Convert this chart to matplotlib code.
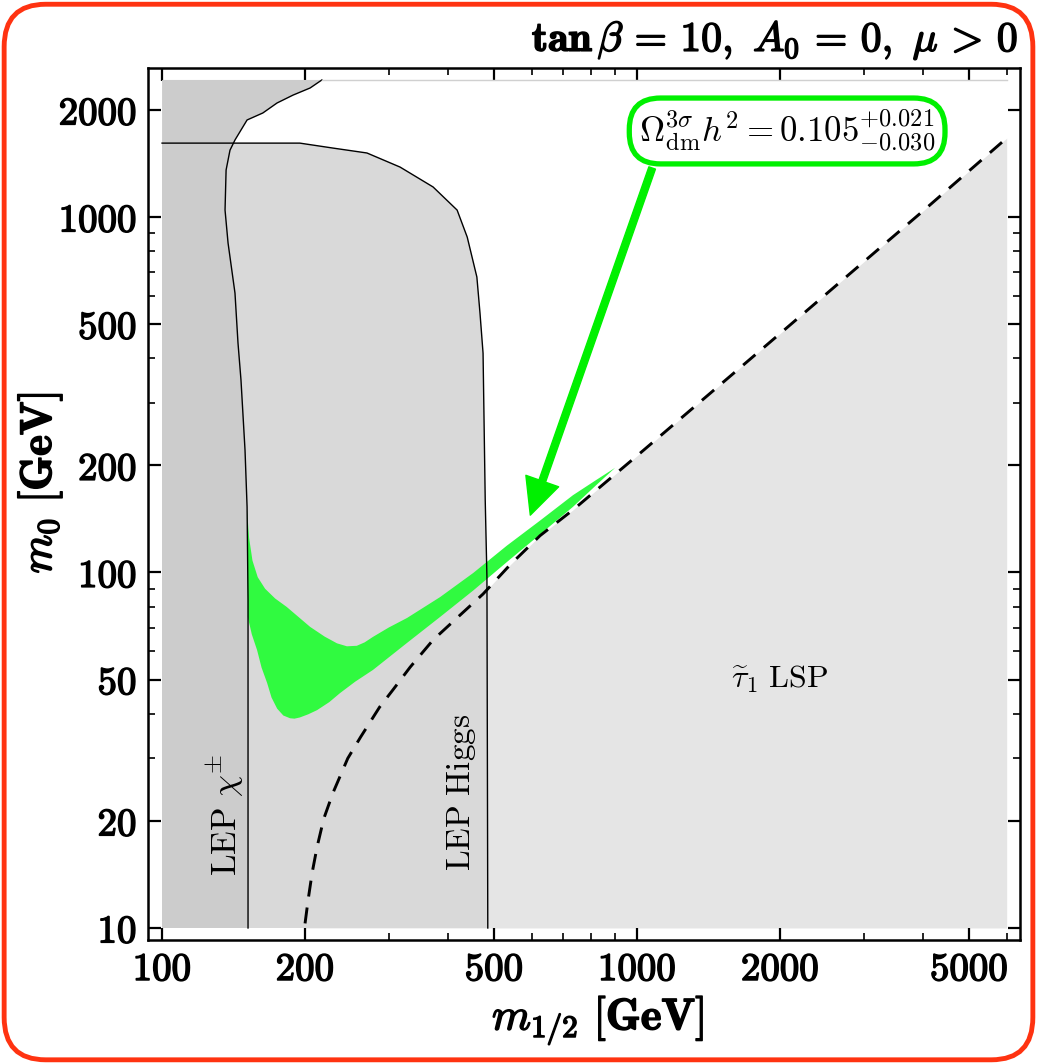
import numpy as np
import matplotlib
matplotlib.use('Agg')
import matplotlib.pyplot as plt
from matplotlib.patches import FancyBboxPatch
from matplotlib import patheffects as pe
from matplotlib.ticker import FixedLocator, FixedFormatter, NullFormatter

plt.rcParams['mathtext.fontset'] = 'cm'
plt.rcParams['font.family'] = 'serif'

# scan range of the (m_1/2, m_0) plane, GeV
m12_min, m12_max = 100.0, 6000.0
m0_min, m0_max = 10.0, 2430.0

# LEP chargino bound (bottom -> top)
chi_x = [151.7, 151.7, 151.0, 149.5, 146.6, 144.5, 142.4, 137.7, 135.7, 136.4,
         139.0, 142.4, 151.0, 163.0, 174.6, 188.7, 205.0, 217.0]
chi_y = [10.0, 84.0, 153.0, 221.0, 348.0, 442.0, 611.0, 845.0, 1046.0, 1356.0,
         1542.0, 1647.0, 1875.0, 1962.0, 2093.0, 2203.0, 2307.0, 2430.0]

# LEP Higgs bound (left along the top, then down)
higgs_x = [100.0, 195.0, 229.0, 270.0, 317.0, 372.0, 418.0, 439.0, 460.0,
           467.0, 474.0, 479.0, 483.0, 485.0]
higgs_y = [1614.0, 1614.0, 1563.0, 1514.0, 1382.0, 1215.0, 1046.0, 878.0,
           678.0, 537.0, 414.0, 160.0, 97.0, 10.0]

# m_stau = m_chi boundary (stau LSP below)
stau_x = [200, 203, 207, 212, 219, 229, 246, 262, 287, 306, 333, 372, 420,
          474, 540, 625, 733, 1000, 2000, 4000, 6000]
stau_y = [10.3, 12.0, 14.3, 16.9, 20.3, 24.0, 30.0, 34.5, 41.8, 46.7, 54.2,
          64.6, 75.0, 87.0, 105.0, 127.0, 150.0, 213.0, 470.0, 1040.0, 1667.0]

# 3 sigma dark matter band: upper and lower edge
dm_up_x = [151.0, 152.5, 155.0, 159.0, 164.8, 173.0, 183.0, 205.0, 220.0,
           233.5, 245.0, 257.0, 267.0, 278.0, 300.0, 328.0,
           385.0, 452.0, 532.0, 625.0, 733.0, 820.0, 899.0]
dm_up_y = [150.0, 125.0, 108.0, 97.0, 90.0, 84.5, 80.0, 70.3, 66.0,
           63.2, 62.0, 62.2, 63.6, 65.9, 70.0, 74.5,
           85.3, 99.7, 119.0, 140.0, 165.0, 182.0, 197.0]
dm_lo_x = [151.5, 154.5, 158.5, 162.0, 166.4, 170.0, 174.7, 180.0, 186.0,
           190.0, 195.0, 203.0, 212.0, 225.0, 237.0, 255.0, 278.0,
           328.0, 385.0, 452.0, 532.0, 625.0, 733.0, 820.0, 899.0]
dm_lo_y = [75.0, 67.0, 60.5, 54.0, 48.9, 44.5, 41.4, 39.6, 38.9,
           38.8, 39.1, 39.9, 41.0, 43.2, 45.8, 49.3, 53.2,
           63.4, 75.0, 89.0, 107.0, 128.0, 153.0, 176.0, 197.0]

x_ticks = [100, 200, 500, 1000, 2000, 5000]
y_ticks = [10, 20, 50, 100, 200, 500, 1000, 2000]
x_minor = [300, 400, 600, 700, 800, 900, 3000, 4000, 6000]
y_minor = [30, 40, 60, 70, 80, 90, 300, 400, 600, 700, 800, 900]

box_pos = (2070, 1746)
arrow_from = (1076, 1374)
arrow_to = (596, 145)

green = '#00f000'
band_green = '#30fa40'

fig = plt.figure(figsize=(10.37, 10.63), dpi=100)
ax = fig.add_axes([0.1427, 0.1157, 0.8409, 0.8203])
ax.set_xscale('log')
ax.set_yscale('log')
ax.set_xlim(93.4, 6400)
ax.set_ylim(9.25, 2625)

# excluded / disfavoured regions
ax.fill_between(stau_x, m0_min, stau_y, color='#e5e5e5', lw=0, zorder=1)
ax.fill(higgs_x + [m12_min], higgs_y + [m0_min], color='#d9d9d9', lw=0, zorder=2)
ax.fill([m12_min] + chi_x + [m12_min], [m0_min] + chi_y + [m0_max],
        color='#cccccc', lw=0, zorder=3)
ax.fill(dm_up_x + dm_lo_x[::-1], dm_up_y + dm_lo_y[::-1],
        color=band_green, lw=0, zorder=4)

ax.plot(chi_x, chi_y, color='k', lw=1.0, zorder=5)
ax.plot(higgs_x, higgs_y, color='k', lw=1.0, zorder=5)
ax.plot(stau_x, stau_y, color='k', lw=2.1, ls=(0, (5.5, 3.8)), zorder=6)
ax.plot([chi_x[-1], m12_max], [m0_max, m0_max], color='#d0d0d0', lw=1, zorder=5)

# region labels
ax.text(135.7, 20.8, r'$\mathrm{LEP}\ \chi^{\pm}$', rotation=90,
        ha='center', va='center', fontsize=25, zorder=7)
ax.text(428, 24.1, r'$\mathrm{LEP\ Higgs}$', rotation=90,
        ha='center', va='center', fontsize=24, zorder=7)
ax.text(2000, 50, r'$\widetilde{\tau}_1\ \mathrm{LSP}$',
        ha='center', va='center', fontsize=23, zorder=7)

# relic density annotation
ax.annotate('', xy=arrow_to, xytext=arrow_from, zorder=8,
            arrowprops=dict(width=5, headwidth=25, headlength=26,
                            color=green, shrink=0))
ax.text(box_pos[0], box_pos[1],
        r'$\Omega^{3\sigma}_{\mathrm{dm}}h^2 = 0.105^{+0.021}_{-0.030}$',
        ha='center', va='center', fontsize=25, zorder=9,
        bbox=dict(boxstyle='round,pad=0.28,rounding_size=0.9',
                  fc='white', ec=green, lw=3.8))

# axes, ticks
for sp in ax.spines.values():
    sp.set_linewidth(1.8)
ax.xaxis.set_major_locator(FixedLocator(x_ticks))
ax.xaxis.set_major_formatter(FixedFormatter([r'$\mathbf{%d}$' % v for v in x_ticks]))
ax.yaxis.set_major_locator(FixedLocator(y_ticks))
ax.yaxis.set_major_formatter(FixedFormatter([r'$\mathbf{%d}$' % v for v in y_ticks]))
ax.xaxis.set_minor_locator(FixedLocator(x_minor))
ax.yaxis.set_minor_locator(FixedLocator(y_minor))
ax.xaxis.set_minor_formatter(NullFormatter())
ax.yaxis.set_minor_formatter(NullFormatter())
ax.tick_params(which='both', direction='in', top=True, right=True)
ax.tick_params(which='major', length=9, width=1.6, labelsize=28, pad=8)
ax.tick_params(which='minor', length=5, width=1.2)

bold = [pe.withStroke(linewidth=1.1, foreground='k')]
for t in ax.xaxis.get_major_ticks() + ax.yaxis.get_major_ticks():
    t.label1.set_path_effects(bold)

fig.text(0.5767, 0.0404, r'$m_{\mathbf{1/2}}\ [\mathbf{GeV}]$', fontsize=32,
         ha='center', va='center', path_effects=bold)
fig.text(0.0386, 0.5456, r'$m_{\mathbf{0}}\ [\mathbf{GeV}]$', fontsize=32,
         ha='center', va='center', rotation=90, path_effects=bold)
fig.text(0.9817, 0.9624,
         r'$\mathbf{tan}\,\beta\, =\, \mathbf{10},\ A_{\mathbf{0}}\, =\, \mathbf{0},\ \mu\, >\, \mathbf{0}$',
         fontsize=30, ha='right', va='center', path_effects=bold)

# rounded frame around the figure
fig.patches.append(FancyBboxPatch((0.004, 0.003), 0.992, 0.993,
                                  boxstyle='round,pad=0,rounding_size=0.04',
                                  transform=fig.transFigure, fc='none',
                                  ec='#ff3311', lw=3.5))

fig.savefig('out.png', dpi=100)
